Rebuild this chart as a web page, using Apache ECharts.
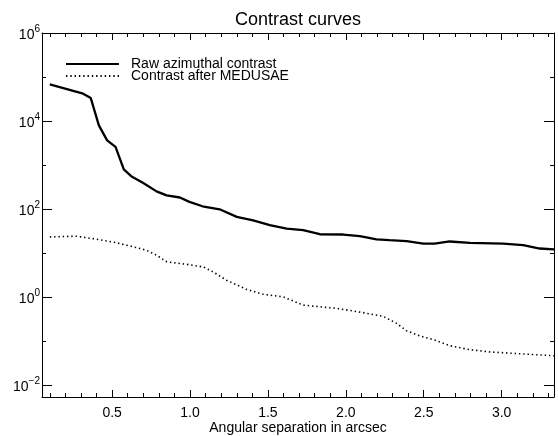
<!DOCTYPE html>
<html>
<head>
<meta charset="utf-8">
<script src="https://cdn.jsdelivr.net/npm/echarts@6/dist/echarts.min.js"></script>
<style>
html,body{margin:0;padding:0;background:#fff;}
#c{width:558px;height:436px;}
</style>
</head>
<body>
<div id="c"></div>
<script>
// Angular separation (arcsec) and contrast values
const rawSep = [0.10, 0.314, 0.363, 0.415, 0.468, 0.522, 0.575, 0.628, 0.70, 0.785, 0.85, 0.935, 0.996, 1.08, 1.19, 1.30, 1.405, 1.512, 1.62, 1.726, 1.833, 1.983, 2.09, 2.197, 2.28, 2.39, 2.497, 2.57, 2.666, 2.797, 3.01, 3.138, 3.245, 3.336];
const rawContrast = [67600, 41700, 33100, 7940, 3630, 2570, 794, 537, 389, 251, 204, 182, 145, 115, 98, 66, 55, 43, 35.5, 33, 26.6, 26.2, 24, 20.4, 19.5, 18.5, 16.2, 16.2, 18.2, 17, 16.2, 15.1, 12.6, 12.0];
const medSep = [0.10, 0.271, 0.42, 0.528, 0.635, 0.72, 0.785, 0.85, 0.978, 1.085, 1.148, 1.234, 1.363, 1.47, 1.598, 1.726, 1.94, 2.11, 2.24, 2.326, 2.39, 2.473, 2.56, 2.666, 2.797, 2.925, 3.118, 3.336];
const medContrast = [23.1, 24, 20, 17, 13.8, 11.5, 8.9, 6.3, 5.5, 4.8, 3.7, 2.4, 1.48, 1.15, 1.0, 0.65, 0.55, 0.44, 0.36, 0.25, 0.17, 0.13, 0.107, 0.078, 0.063, 0.056, 0.051, 0.046];
const seriesNames = ['Raw azimuthal contrast', 'Contrast after MEDUSAE'];
const titleText = 'Contrast curves';
const xTitle = 'Angular separation in arcsec';
const xMin = 0.05, xMax = 3.336;
const yMin = 0.0053, yMax = 1e6;

const FONT = '"Liberation Sans", Arial, Helvetica, sans-serif';
const black = '#000';

function zip(a, b) { return a.map((v, i) => [v, b[i]]); }

function yLabel(v) {
  const l = Math.log10(v);
  const e = Math.round(l);
  if (Math.abs(l - e) > 1e-6) return '';
  const s = e < 0 ? '\u2212' + (-e) : String(e);
  return '{b|10}{s|' + s + '}';
}

const baseX = {
  type: 'value', min: xMin, max: xMax, gridIndex: 0,
  splitLine: { show: false }, axisLabel: { show: false },
  axisLine: { show: false }
};
const baseY = {
  type: 'log', min: yMin, max: yMax, gridIndex: 0,
  splitLine: { show: false }, axisLabel: { show: false },
  axisLine: { show: false }, minorTick: { show: false }
};

const chart = echarts.init(document.getElementById('c'), null, { renderer: 'canvas' });
chart.setOption({
  animation: false,
  backgroundColor: '#fff',
  textStyle: { fontFamily: FONT, color: black },
  title: {
    text: titleText, left: 298, top: 11, padding: 0, textAlign: 'center',
    textStyle: { fontFamily: FONT, fontSize: 18, fontWeight: 'normal', color: black }
  },
  legend: {
    orient: 'vertical', left: 65, top: 57, padding: 0, itemGap: -2,
    itemWidth: 53, itemHeight: 10,
    data: seriesNames,
    itemStyle: { opacity: 0 },
    textStyle: { fontFamily: FONT, fontSize: 14, color: black, lineHeight: 11, padding: [0, 0, 0, 7] }
  },
  grid: { left: 42, right: 4, top: 33, bottom: 39, containLabel: false, outerBoundsMode: 'none' },
  xAxis: [
    Object.assign({}, baseX, {
      position: 'bottom', splitNumber: 5,
      axisLine: { show: true, onZero: false, lineStyle: { color: black, width: 1 } },
      axisTick: { show: true, inside: true, length: 7, lineStyle: { color: black } },
      axisLabel: { show: true, showMinLabel: false, showMaxLabel: false, fontFamily: FONT, fontSize: 14, color: black, margin: 9,
        formatter: v => v.toFixed(1) },
      name: xTitle, nameLocation: 'middle', nameGap: 24, nameMoveOverlap: false,
      nameTextStyle: { fontFamily: FONT, fontSize: 14, color: black }
    }),
    Object.assign({}, baseX, {
      position: 'bottom', splitNumber: 30,
      axisTick: { show: true, inside: true, length: 4, lineStyle: { color: black } }
    }),
    Object.assign({}, baseX, {
      position: 'top', splitNumber: 5,
      axisLine: { show: true, onZero: false, lineStyle: { color: black, width: 1 } },
      axisTick: { show: true, inside: true, length: 7, lineStyle: { color: black } }
    }),
    Object.assign({}, baseX, {
      position: 'top', splitNumber: 30,
      axisTick: { show: true, inside: true, length: 4, lineStyle: { color: black } }
    })
  ],
  yAxis: [
    Object.assign({}, baseY, {
      position: 'left', logBase: 100,
      axisLine: { show: true, onZero: false, lineStyle: { color: black, width: 1 } },
      axisTick: { show: true, inside: true, length: 10, lineStyle: { color: black } },
      axisLabel: { show: true, showMinLabel: false, margin: 2, formatter: yLabel,
        rich: {
          b: { fontFamily: FONT, fontSize: 14, color: black, lineHeight: 18, verticalAlign: 'bottom' },
          s: { fontFamily: FONT, fontSize: 10, color: black, lineHeight: 18, verticalAlign: 'top' }
        } }
    }),
    Object.assign({}, baseY, {
      position: 'left', logBase: 10,
      axisTick: { show: true, inside: true, length: 4, lineStyle: { color: black } }
    }),
    Object.assign({}, baseY, {
      position: 'right', logBase: 100,
      axisLine: { show: true, onZero: false, lineStyle: { color: black, width: 1 } },
      axisTick: { show: true, inside: true, length: 10, lineStyle: { color: black } }
    }),
    Object.assign({}, baseY, {
      position: 'right', logBase: 10,
      axisTick: { show: true, inside: true, length: 4, lineStyle: { color: black } }
    })
  ],
  series: [
    {
      name: seriesNames[0], type: 'line', xAxisIndex: 0, yAxisIndex: 0,
      data: zip(rawSep, rawContrast), symbol: 'none', showSymbol: false,
      lineStyle: { color: black, width: 2.3, type: 'solid' },
      itemStyle: { color: black }, smooth: false
    },
    {
      name: seriesNames[1], type: 'line', xAxisIndex: 0, yAxisIndex: 0,
      data: zip(medSep, medContrast), symbol: 'none', showSymbol: false,
      lineStyle: { color: black, width: 1.6, type: [1.4, 2.9] },
      itemStyle: { color: black }, smooth: false
    }
  ]
});
</script>
</body>
</html>
